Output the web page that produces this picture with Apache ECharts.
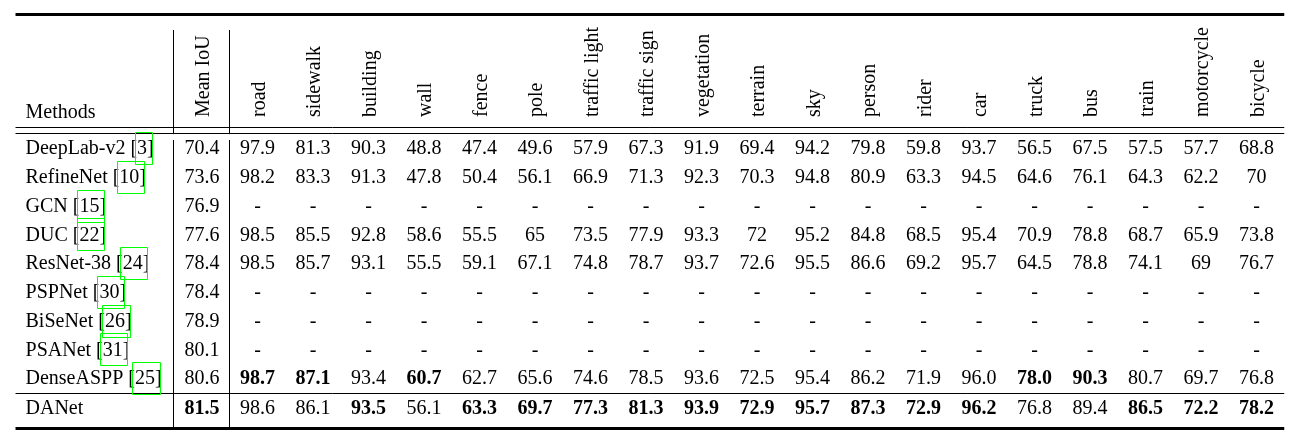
<!DOCTYPE html>
<html><head><meta charset="utf-8">
<script src="https://cdn.jsdelivr.net/npm/echarts@6/dist/echarts.min.js"></script>
<style>html,body{margin:0;padding:0;background:#fff}#c{width:1303px;height:448px}</style>
</head><body><div id="c"></div>
<script>
// ---------------- DATA ----------------
const categories = ['road','sidewalk','building','wall','fence','pole','traffic light','traffic sign','vegetation','terrain','sky','person','rider','car','truck','bus','train','motorcycle','bicycle'];
const methods = ['DeepLab-v2','RefineNet','GCN','DUC','ResNet-38','PSPNet','BiSeNet','PSANet','DenseASPP','DANet'];
const refs = ['3','10','15','22','24','30','26','31','25',''];
const meanIoU = ['70.4','73.6','76.9','77.6','78.4','78.4','78.9','80.1','80.6','81.5'];
const deeplabV2 = ['97.9','81.3','90.3','48.8','47.4','49.6','57.9','67.3','91.9','69.4','94.2','79.8','59.8','93.7','56.5','67.5','57.5','57.7','68.8'];
const refineNet = ['98.2','83.3','91.3','47.8','50.4','56.1','66.9','71.3','92.3','70.3','94.8','80.9','63.3','94.5','64.6','76.1','64.3','62.2','70'];
const gcn       = ['-','-','-','-','-','-','-','-','-','-','-','-','-','-','-','-','-','-','-'];
const duc       = ['98.5','85.5','92.8','58.6','55.5','65','73.5','77.9','93.3','72','95.2','84.8','68.5','95.4','70.9','78.8','68.7','65.9','73.8'];
const resnet38  = ['98.5','85.7','93.1','55.5','59.1','67.1','74.8','78.7','93.7','72.6','95.5','86.6','69.2','95.7','64.5','78.8','74.1','69','76.7'];
const pspNet    = ['-','-','-','-','-','-','-','-','-','-','-','-','-','-','-','-','-','-','-'];
const biseNet   = ['-','-','-','-','-','-','-','-','-','-','-','-','-','-','-','-','-','-','-'];
const psaNet    = ['-','-','-','-','-','-','-','-','-','-','-','-','-','-','-','-','-','-','-'];
const denseAspp = ['98.7','87.1','93.4','60.7','62.7','65.6','74.6','78.5','93.6','72.5','95.4','86.2','71.9','96.0','78.0','90.3','80.7','69.7','76.8'];
const daNet     = ['98.6','86.1','93.5','56.1','63.3','69.7','77.3','81.3','93.9','72.9','95.7','87.3','72.9','96.2','76.8','89.4','86.5','72.2','78.2'];
const classValues = [deeplabV2, refineNet, gcn, duc, resnet38, pspNet, biseNet, psaNet, denseAspp, daNet];
const headerMethods = 'Methods';
const headerMean = 'Mean IoU';

// ---------------- LAYOUT (in column / row units) ----------------
const FONT = '20px "Liberation Serif", "Times New Roman", serif';
const BOLD = 'bold ' + FONT;
const TEXT_SHIFT = 2; // px, glyph centring correction
const L = {
  methodX: -3.18, tableLeft: -3.36, tableRight: 19.5,
  vLines: [-0.517, 0.492],
  vTop: -4.07, vGapTop: -0.45, vGapBot: -0.243, vBot: 9.74,
  topRule: -4.61, headRule1: -0.671, headRule2: -0.476, midRule: 8.567, bottomRule: 9.79,
  headerBase: -1.043, methodsHeaderY: -1.252,
  lastRowExtra: 0.043
};
function rowPos(r){ return r + (r === methods.length - 1 ? L.lastRowExtra : 0); }

// bold = best value in each column
const columns = [meanIoU].concat(categories.map((c, j) => classValues.map(row => row[j])));
const colBest = columns.map(col => Math.max.apply(null, col.map(v => v === '-' ? -Infinity : parseFloat(v))));

const cellData = [];
columns.forEach((col, c) => col.forEach((v, r) => {
  cellData.push([c, rowPos(r), v, (v !== '-' && parseFloat(v) === colBest[c]) ? 1 : 0]);
}));
const headerData = [[0, L.headerBase, headerMean]].concat(categories.map((c, i) => [i + 1, L.headerBase, c]));
const methodData = methods.map((m, r) => [L.methodX, rowPos(r), m, refs[r]]);

const measureCtx = document.createElement('canvas').getContext('2d');
function textW(s, font){ measureCtx.font = font; return measureCtx.measureText(s).width; }

function txt(x, y, text, font, align, rot){
  const el = {type: 'text', x: x, y: y, style: {text: text, font: font, fill: '#000', align: align, verticalAlign: 'middle', textAlign: align, textVerticalAlign: 'middle'}};
  if (rot) { el.rotation = rot; el.x += TEXT_SHIFT; } else { el.y += TEXT_SHIFT; }
  return el;
}
function hline(api, x0, x1, y, w){
  const a = api.coord([x0, y]), b = api.coord([x1, y]);
  const py = Math.round(a[1] - w / 2) + w / 2;
  return {type: 'line', shape: {x1: a[0], y1: py, x2: b[0], y2: py}, style: {stroke: '#000', lineWidth: w}};
}
function vline(api, x, y0, y1){
  const a = api.coord([x, y0]), b = api.coord([x, y1]);
  const px = Math.round(a[0] - 0.5) + 0.5;
  return {type: 'line', shape: {x1: px, y1: a[1], x2: px, y2: b[1]}, style: {stroke: '#000', lineWidth: 1}};
}

const chart = echarts.init(document.getElementById('c'), null, {renderer: 'canvas'});
chart.setOption({
  animation: false,
  backgroundColor: '#fff',
  grid: {left: 202, right: 46.5, top: 147, bottom: 71},
  xAxis: {type: 'value', min: 0, max: 19, show: false},
  yAxis: {type: 'value', min: 0, max: 8, inverse: true, show: false},
  series: [
    { // rules
      type: 'custom', silent: true, data: [[0, 0]],
      renderItem: function(params, api){
        const ch = [
          hline(api, L.tableLeft, L.tableRight, L.topRule, 3),
          hline(api, L.tableLeft, L.tableRight, L.headRule1, 1),
          hline(api, L.tableLeft, L.tableRight, L.headRule2, 1),
          hline(api, L.tableLeft, L.tableRight, L.midRule, 1),
          hline(api, L.tableLeft, L.tableRight, L.bottomRule, 3)
        ];
        L.vLines.forEach(x => { ch.push(vline(api, x, L.vTop, L.vGapTop)); ch.push(vline(api, x, L.vGapBot, L.vBot)); });
        return {type: 'group', children: ch};
      }
    },
    { // rotated column headers
      type: 'custom', silent: true, data: headerData,
      renderItem: function(params, api){
        const d = headerData[params.dataIndex];
        const p = api.coord([d[0], d[1]]);
        return txt(p[0], p[1], d[2], FONT, 'left', Math.PI / 2);
      }
    },
    { // "Methods" header
      type: 'custom', silent: true, data: [[L.methodX, L.methodsHeaderY]],
      renderItem: function(params, api){
        const p = api.coord([api.value(0), api.value(1)]);
        return txt(p[0], p[1], headerMethods, FONT, 'left');
      }
    },
    { // method names with citation boxes
      type: 'custom', silent: true, data: methodData,
      renderItem: function(params, api){
        const d = methodData[params.dataIndex];
        const p = api.coord([d[0], d[1]]);
        const label = d[3] ? d[2] + ' [' + d[3] + ']' : d[2];
        const ch = [txt(p[0], p[1], label, FONT, 'left')];
        if (d[3]) {
          const pre = textW(d[2] + ' [', FONT);
          const full = textW(label, FONT);
          const x0 = Math.round(p[0] + pre - 2.5) + 0.5;
          const x1 = Math.round(p[0] + full - 2) + 0.5;
          const y0 = Math.round(p[1] - 15) + 0.5;
          ch.push({type: 'rect', shape: {x: x0, y: y0, width: x1 - x0, height: 32}, style: {fill: 'none', stroke: '#00ff00', lineWidth: 1}});
        }
        return {type: 'group', children: ch};
      }
    },
    { // value cells
      type: 'custom', silent: true, data: cellData,
      renderItem: function(params, api){
        const d = cellData[params.dataIndex];
        const p = api.coord([d[0], d[1]]);
        return txt(p[0], p[1], d[2], d[3] ? BOLD : FONT, 'center');
      }
    }
  ]
});
</script></body></html>
